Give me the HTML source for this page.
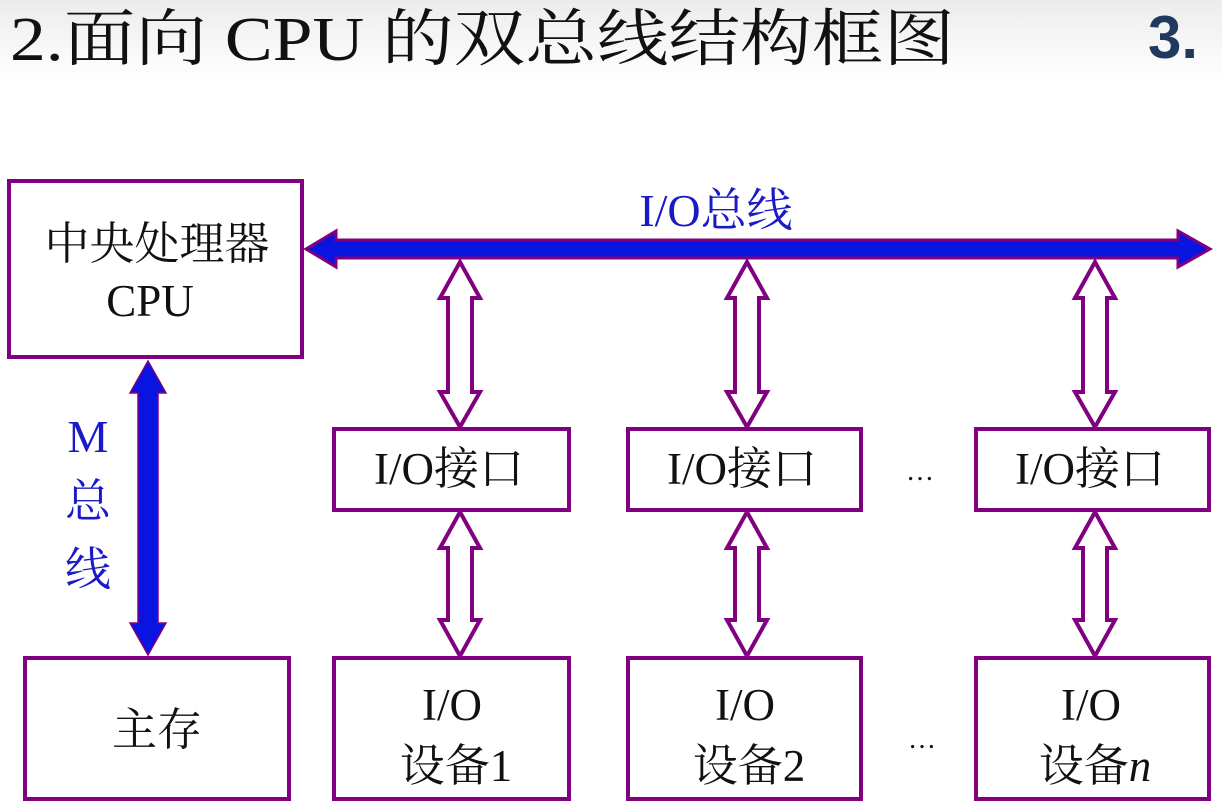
<!DOCTYPE html>
<html><head><meta charset="utf-8"><style>
body{margin:0;background:#fff}
svg{display:block}
</style></head><body>
<svg width="1222" height="810" viewBox="0 0 1222 810" xmlns="http://www.w3.org/2000/svg">
<defs><linearGradient id="g" x1="0" y1="0" x2="0" y2="1"><stop offset="0" stop-color="#ececec"/><stop offset="1" stop-color="#fff"/></linearGradient></defs>
<rect x="0" y="0" width="1222" height="80" fill="url(#g)"/>
<text x="10" y="60" font-family="Liberation Serif, Noto Serif CJK SC, serif" font-size="62" fill="#111" textLength="945" lengthAdjust="spacingAndGlyphs">2.面向 CPU 的双总线结构框图</text>
<text x="1148" y="58" font-family="Liberation Sans, sans-serif" font-size="60" font-weight="bold" fill="#1f3a5f">3.</text>

<g fill="none" stroke="#800080" stroke-width="4">
<rect x="9" y="181" width="293" height="176"/>
<rect x="25" y="658" width="264" height="141"/>
<rect x="334" y="429" width="235" height="81"/>
<rect x="628" y="429" width="233" height="81"/>
<rect x="976" y="429" width="233" height="81"/>
<rect x="334" y="658" width="235" height="141"/>
<rect x="628" y="658" width="233" height="141"/>
<rect x="976" y="658" width="233" height="141"/>
</g>

<polygon points="306,249 336,231 336,240 1178,240 1178,231 1210,249 1178,267 1178,258 336,258 336,267" fill="#0a14e0" stroke="#800080" stroke-width="3"/>
<polygon points="148,361 166,393 158,393 158,623 166,623 148,655 130,623 138,623 138,393 130,393" fill="#0a14e0" stroke="#800080" stroke-width="1.5"/>

<g fill="#fff" stroke="#800080" stroke-width="4" stroke-linejoin="miter">
<polygon points="460,262 480,298 472,298 472,392 480,392 460,427 440,392 448,392 448,298 440,298"/>
<polygon points="747,262 767,298 759,298 759,392 767,392 747,427 727,392 735,392 735,298 727,298"/>
<polygon points="1095,262 1115,298 1107,298 1107,392 1115,392 1095,427 1075,392 1083,392 1083,298 1075,298"/>
<polygon points="460,512 480,548 472,548 472,620 480,620 460,656 440,620 448,620 448,548 440,548"/>
<polygon points="747,512 767,548 759,548 759,620 767,620 747,656 727,620 735,620 735,548 727,548"/>
<polygon points="1095,512 1115,548 1107,548 1107,620 1115,620 1095,656 1075,620 1083,620 1083,548 1075,548"/>
</g>

<g font-family="Liberation Serif, Noto Serif CJK SC, serif" font-size="45" fill="#111" text-anchor="middle">
<text x="157" y="259">中央处理器</text>
<text x="150" y="316">CPU</text>
<text x="157" y="745">主存</text>
<text x="449" y="484">I/O接口</text>
<text x="742" y="484">I/O接口</text>
<text x="1090" y="484">I/O接口</text>
<text x="452" y="720">I/O</text>
<text x="456" y="781">设备1</text>
<text x="745" y="720">I/O</text>
<text x="749" y="781">设备2</text>
<text x="1091" y="720">I/O</text>
<text x="1095" y="781">设备<tspan font-style="italic">n</tspan></text>
<text x="920" y="480" font-size="28">…</text>
<text x="922" y="748" font-size="28">…</text>
</g>
<g font-family="Liberation Serif, Noto Serif CJK SC, serif" font-size="46" fill="#1a1ac8" text-anchor="middle">
<text x="716" y="226">I/O总线</text>
<text x="88" y="452">M</text>
<text x="88" y="517">总</text>
<text x="88" y="585">线</text>
</g>
</svg>
</body></html>
